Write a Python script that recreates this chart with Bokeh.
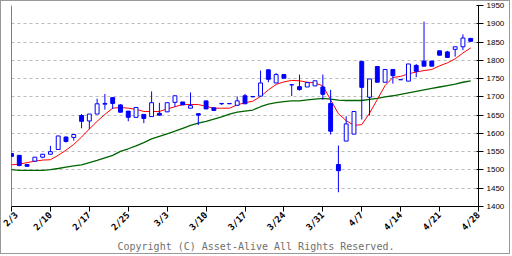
import math
from bokeh.plotting import figure
from bokeh.models import Range1d, FixedTicker, Span, Title
from bokeh.embed import file_html
from bokeh.resources import INLINE

# ---- data ----
tick_pos = [0, 5, 10, 15, 20, 25, 30, 35, 40, 45, 50, 55, 60]
tick_labels = ["2/3", "2/10", "2/17", "2/25", "3/3", "3/10", "3/17",
               "3/24", "3/31", "4/7", "4/14", "4/21", "4/28"]

opens = [1545, 1540, 1515, 1524, 1535, 1543, 1556, 1590, 1589, 1649,
         1634, 1653, 1680, 1698, 1678, 1661, 1644, 1652, 1646, 1655,
         1659, 1685, 1686, 1669, 1654, 1689, 1670, 1681, 1681, 1677,
         1703, 1700, 1702, 1774, 1738, 1761, 1733, 1728, 1727, 1730,
         1727, 1682, 1515, 1579, 1598, 1797, 1699, 1783, 1740, 1775,
         1747, 1743, 1786, 1798, 1798, 1826, 1823, 1830, 1837, 1860]
highs = [1546, 1541, 1515, 1535, 1544, 1566, 1593, 1592, 1598, 1653,
         1653, 1695, 1708, 1698, 1680, 1661, 1671, 1652, 1715, 1684,
         1684, 1703, 1686, 1712, 1654, 1689, 1670, 1682, 1682, 1701,
         1708, 1701, 1772, 1774, 1765, 1761, 1733, 1761, 1739, 1744,
         1761, 1719, 1567, 1647, 1660, 1797, 1749, 1783, 1775, 1775,
         1747, 1790, 1790, 1906, 1798, 1826, 1826, 1837, 1871, 1860]
lows = [1536, 1510, 1510, 1522, 1532, 1542, 1556, 1575, 1580, 1614,
        1612, 1653, 1665, 1667, 1658, 1633, 1644, 1628, 1645, 1649,
        1659, 1673, 1678, 1669, 1623, 1667, 1661, 1678, 1681, 1677,
        1681, 1700, 1702, 1740, 1738, 1751, 1702, 1717, 1727, 1730,
        1692, 1597, 1439, 1579, 1598, 1638, 1649, 1740, 1740, 1736,
        1747, 1743, 1754, 1784, 1784, 1814, 1808, 1810, 1828, 1852]
closes = [1537, 1512, 1510, 1535, 1543, 1550, 1593, 1578, 1597, 1633,
          1653, 1681, 1682, 1682, 1658, 1644, 1671, 1641, 1684, 1650,
          1684, 1703, 1678, 1676, 1650, 1667, 1663, 1682, 1682, 1689,
          1681, 1701, 1738, 1748, 1761, 1751, 1733, 1720, 1739, 1744,
          1707, 1606, 1498, 1626, 1660, 1726, 1749, 1740, 1775, 1758,
          1747, 1790, 1770, 1784, 1784, 1814, 1808, 1837, 1861, 1852]

ma_short = [1514, 1516, 1520, 1524, 1527, 1528, 1540, 1554, 1570, 1590,
            1612, 1633, 1652, 1669, 1671, 1669, 1666, 1660, 1660, 1660,
            1667, 1673, 1679, 1679, 1679, 1674, 1669, 1669, 1669, 1678,
            1684, 1688, 1701, 1719, 1734, 1741, 1745, 1744, 1740, 1738,
            1730, 1692, 1654, 1635, 1622, 1624, 1655, 1693, 1731, 1753,
            1756, 1763, 1768, 1772, 1775, 1785, 1793, 1804, 1820, 1834]
ma_long = [1501, 1499, 1499, 1499, 1499, 1501, 1504, 1508, 1511, 1514,
           1520, 1526, 1533, 1540, 1551, 1558, 1566, 1575, 1585, 1592,
           1599, 1606, 1614, 1622, 1628, 1633, 1639, 1645, 1653, 1658,
           1661, 1664, 1673, 1680, 1684, 1687, 1689, 1689, 1692, 1694,
           1696, 1694, 1691, 1690, 1690, 1690, 1693, 1696, 1700, 1703,
           1707, 1711, 1715, 1719, 1723, 1727, 1731, 1735, 1740, 1744]

y_ticks = list(range(1400, 1951, 50))
grid_ticks = list(range(1450, 1901, 50))
copyright_text = "Copyright (C) Asset-Alive All Rights Reserved."

idx = list(range(len(opens)))
up = [i for i in idx if closes[i] >= opens[i]]
dn = [i for i in idx if closes[i] < opens[i]]

BLUE = "#0000ff"

p = figure(width=510, height=254, output_backend="svg", toolbar_location=None,
           x_range=Range1d(0, 60), y_range=Range1d(1400, 1950),
           y_axis_location="right")
p.styles = {"border": "1px solid #999999"}
p.min_border_left = 10
p.min_border_right = 33
p.min_border_top = 4
p.min_border_bottom = 49
p.outline_line_color = None
p.background_fill_color = "white"
p.border_fill_color = "white"

# grid
p.xgrid.visible = False
p.ygrid.ticker = FixedTicker(ticks=grid_ticks)
p.ygrid.grid_line_color = "#bbbbbb"
p.ygrid.grid_line_dash = "3 3"
p.ygrid.grid_line_width = 1

# x axis
xa = p.xaxis[0]
xa.ticker = FixedTicker(ticks=tick_pos)
xa.major_label_overrides = {t: l for t, l in zip(tick_pos, tick_labels)}
xa.major_label_orientation = math.pi / 4
xa.major_tick_in = 0
xa.major_tick_out = 5
xa.minor_tick_line_color = None
xa.axis_line_color = "black"
xa.major_tick_line_color = "black"
xa.major_label_text_font = "DejaVu Sans Mono"
xa.major_label_text_font_size = "9px"
xa.major_label_text_font_style = "bold"
xa.major_label_text_color = "black"
xa.major_label_standoff = 2

# y axis (right)
ya = p.yaxis[0]
ya.ticker = FixedTicker(ticks=y_ticks)
ya.major_tick_in = 2
ya.major_tick_out = 5
ya.minor_tick_line_color = None
ya.axis_line_color = "black"
ya.major_tick_line_color = "black"
ya.major_label_text_font = "Liberation Sans"
ya.major_label_text_font_size = "8px"
ya.major_label_text_color = "black"
ya.major_label_standoff = 3

# left frame line
p.add_layout(Span(location=0, dimension="height", line_color="black", line_width=1))

# moving averages
p.line(idx, ma_long, line_color="#006400", line_width=1.3)
p.line(idx, ma_short, line_color="#ff0000", line_width=1)

# candles
p.segment(x0=idx, y0=lows, x1=idx, y1=highs, line_color=BLUE, line_width=1)
p.vbar(x=up, width=0.5, top=[closes[i] for i in up], bottom=[opens[i] for i in up],
       fill_color="white", line_color=BLUE, line_width=1)
p.vbar(x=dn, width=0.5, top=[opens[i] for i in dn], bottom=[closes[i] for i in dn],
       fill_color=BLUE, line_color=BLUE, line_width=1)

# copyright (below the axis)
t = Title(text=copyright_text, align="left", text_font="DejaVu Sans Mono",
          text_font_size="10px", text_font_style="normal", text_color="#707070",
          standoff=1, offset=106)
p.add_layout(t, "below")

open("out.html", "w").write(file_html(p, INLINE))
